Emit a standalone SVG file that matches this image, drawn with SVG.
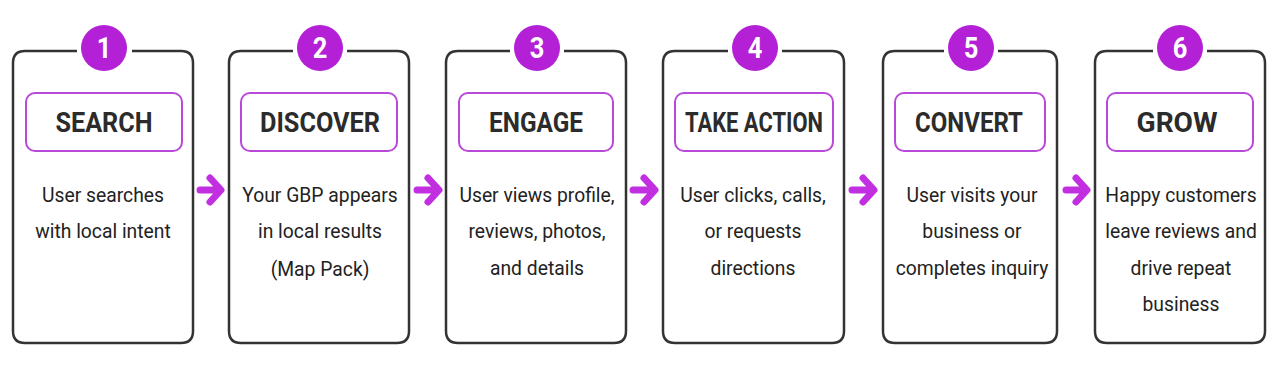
<svg xmlns="http://www.w3.org/2000/svg" width="1280" height="365" viewBox="0 0 1280 365">
<defs>
<style>
.card{fill:none;stroke:#333;stroke-width:2.5;stroke-linejoin:round}
.lab{fill:#fff;stroke:#b94ad9;stroke-width:2}
.num{fill:#b320d6}
.numt{fill:#fff;font-family:Roboto,"Liberation Sans",sans-serif;font-weight:700;font-size:30px;text-anchor:middle}
.title{fill:#2b2b2b;font-family:Roboto,"Liberation Sans",sans-serif;font-weight:700;font-size:28px;text-anchor:middle}
.body{fill:#222;font-family:Roboto,"Liberation Sans",sans-serif;font-size:21px;text-anchor:middle}
.arr{fill:none;stroke:#c12fe0;stroke-width:7;stroke-linecap:round;stroke-linejoin:round}
</style>
</defs>
<rect width="1280" height="365" fill="#fff"/>
<g id="step1">
<path class="card" d="M77 51 H25 Q13 51 13 63 V331 Q13 343 25 343 H181 Q193 343 193 331 V63 Q193 51 181 51 H132"/>
<circle class="num" cx="104" cy="48" r="23"/>
<text class="numt" x="104" y="58" transform="translate(104 0) scale(0.85 1) translate(-104 0)">1</text>
<rect class="lab" x="26" y="93" width="156" height="58" rx="9"/>
<text class="title" x="104" y="132" textLength="97" lengthAdjust="spacingAndGlyphs">SEARCH</text>
<g transform="translate(103 0) scale(0.92 1)">
<text class="body" x="0" y="202">User searches</text>
<text class="body" x="0" y="238">with local intent</text>
</g>
</g>
<g id="step2">
<path class="card" d="M293 51 H241 Q229 51 229 63 V331 Q229 343 241 343 H397 Q409 343 409 331 V63 Q409 51 397 51 H347"/>
<circle class="num" cx="320" cy="48" r="23"/>
<text class="numt" x="320" y="58" transform="translate(320 0) scale(0.85 1) translate(-320 0)">2</text>
<rect class="lab" x="241" y="93" width="156" height="58" rx="9"/>
<text class="title" x="320" y="132" textLength="120" lengthAdjust="spacingAndGlyphs">DISCOVER</text>
<g transform="translate(320 0) scale(0.92 1)">
<text class="body" x="0" y="202">Your GBP appears</text>
<text class="body" x="0" y="238">in local results</text>
<text class="body" x="0" y="276">(Map Pack)</text>
</g>
</g>
<g id="step3">
<path class="card" d="M510 51 H458 Q446 51 446 63 V331 Q446 343 458 343 H614 Q626 343 626 331 V63 Q626 51 614 51 H564"/>
<circle class="num" cx="537" cy="48" r="23"/>
<text class="numt" x="537" y="58" transform="translate(537 0) scale(0.85 1) translate(-537 0)">3</text>
<rect class="lab" x="459" y="93" width="154" height="58" rx="9"/>
<text class="title" x="536" y="132" textLength="94" lengthAdjust="spacingAndGlyphs">ENGAGE</text>
<g transform="translate(537 0) scale(0.92 1)">
<text class="body" x="0" y="202">User views profile,</text>
<text class="body" x="0" y="238">reviews, photos,</text>
<text class="body" x="0" y="275">and details</text>
</g>
</g>
<g id="step4">
<path class="card" d="M728 51 H675 Q663 51 663 63 V331 Q663 343 675 343 H832 Q844 343 844 331 V63 Q844 51 832 51 H782"/>
<circle class="num" cx="755" cy="48" r="23"/>
<text class="numt" x="755" y="58" transform="translate(755 0) scale(0.85 1) translate(-755 0)">4</text>
<rect class="lab" x="675" y="93" width="158" height="58" rx="9"/>
<text class="title" x="754" y="132" textLength="138" lengthAdjust="spacingAndGlyphs">TAKE ACTION</text>
<g transform="translate(753 0) scale(0.92 1)">
<text class="body" x="0" y="202">User clicks, calls,</text>
<text class="body" x="0" y="238">or requests</text>
<text class="body" x="0" y="275">directions</text>
</g>
</g>
<g id="step5">
<path class="card" d="M944 51 H895 Q883 51 883 63 V331 Q883 343 895 343 H1045 Q1057 343 1057 331 V63 Q1057 51 1045 51 H998"/>
<circle class="num" cx="971" cy="48" r="23"/>
<text class="numt" x="971" y="58" transform="translate(971 0) scale(0.85 1) translate(-971 0)">5</text>
<rect class="lab" x="895" y="93" width="150" height="58" rx="9"/>
<text class="title" x="969" y="132" textLength="108" lengthAdjust="spacingAndGlyphs">CONVERT</text>
<g transform="translate(972 0) scale(0.92 1)">
<text class="body" x="0" y="202">User visits your</text>
<text class="body" x="0" y="238">business or</text>
<text class="body" x="0" y="275">completes inquiry</text>
</g>
</g>
<g id="step6">
<path class="card" d="M1153 51 H1107 Q1095 51 1095 63 V331 Q1095 343 1107 343 H1253 Q1265 343 1265 331 V63 Q1265 51 1253 51 H1207"/>
<circle class="num" cx="1180" cy="48" r="23"/>
<text class="numt" x="1180" y="58" transform="translate(1180 0) scale(0.85 1) translate(-1180 0)">6</text>
<rect class="lab" x="1107" y="93" width="146" height="58" rx="9"/>
<text class="title" x="1177" y="132" textLength="81" lengthAdjust="spacingAndGlyphs">GROW</text>
<g transform="translate(1181 0) scale(0.92 1)">
<text class="body" x="0" y="202">Happy customers</text>
<text class="body" x="0" y="238">leave reviews and</text>
<text class="body" x="0" y="275">drive repeat</text>
<text class="body" x="0" y="311">business</text>
</g>
</g>
<g id="connectors">
<path class="arr" d="M200 190 H218 M210 178 L221 190 L210 202"/>
<path class="arr" d="M417 190 H436 M428 178 L439 190 L428 202"/>
<path class="arr" d="M633 190 H652 M644 178 L655 190 L644 202"/>
<path class="arr" d="M852 190 H871 M863 178 L874 190 L863 202"/>
<path class="arr" d="M1066 190 H1084 M1076 178 L1087 190 L1076 202"/>
</g>
</svg>
